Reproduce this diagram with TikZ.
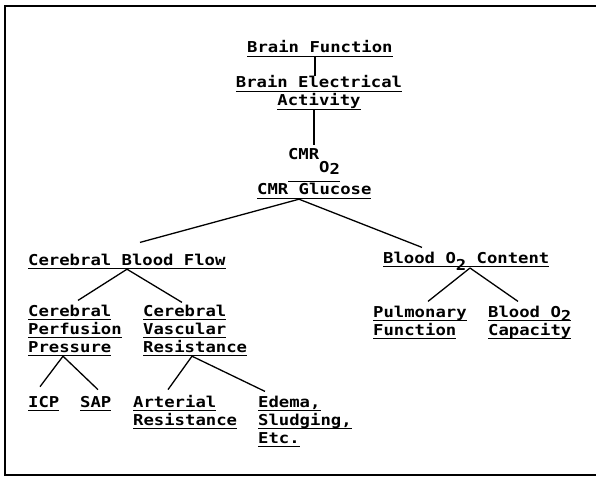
\documentclass[tikz,border=0pt]{standalone}
\usepackage{fontspec}
\setmonofont[FakeStretch=1.15]{DejaVu Sans Mono}
\newcommand{\ulbox}[1]{\setbox0\hbox{#1}\rlap{\rule[-4pt]{\wd0}{1.3pt}}\box0}
\newcommand{\lowr}[2]{\raisebox{-#1}{#2}}
\begin{document}
\begin{tikzpicture}[x=1pt,y=-1pt,
    txt/.style={anchor=base west,inner sep=0pt,align=left,
      font=\ttfamily\bfseries\fontsize{15}{18}\selectfont},
    link/.style={line width=1.3pt}]
    \useasboundingbox (0,0) rectangle (596,478);
    % frame
    \draw[link] (596,6) -- (5,6) -- (5,475) -- (596,475);
    % top column (multi-line nodes sit on their last line)
    \node[txt] (bf) at (247,53) {\ulbox{Brain Function}};
    \node[txt,anchor=base,align=center] (bea) at (319,106) {\ulbox{Brain Electrical}\\\ulbox{Activity}};
    \node[txt,anchor=base] (cmro) at (314,160) {CMR\lowr{13pt}{O\lowr{2pt}{2}}};
    \node[txt] (glu) at (257,195) {\ulbox{CMR Glucose}};
    \draw[link] ([yshift=-6pt]cmro.south west) -- ([yshift=-6pt]cmro.south east);
    % left branch
    \node[txt] (cbf) at (28,265) {\ulbox{Cerebral Blood Flow}};
    \node[txt] (cpp) at (28,352) {\ulbox{Cerebral}\\\ulbox{Perfusion}\\\ulbox{Pressure}};
    \node[txt] (cvr) at (143,352) {\ulbox{Cerebral}\\\ulbox{Vascular}\\\ulbox{Resistance}};
    \node[txt] (icp) at (28,407) {\ulbox{ICP}};
    \node[txt] (sap) at (80,407) {\ulbox{SAP}};
    \node[txt] (ar) at (133,425) {\ulbox{Arterial}\\\ulbox{Resistance}};
    \node[txt] (eds) at (258,443) {\ulbox{Edema,}\\\ulbox{Sludging,}\\\ulbox{Etc.}};
    % right branch
    \node[txt] (boc) at (383,263) {\ulbox{Blood O\lowr{7pt}{2} Content}};
    \node[txt] (pf) at (373,335) {\ulbox{Pulmonary}\\\ulbox{Function}};
    \node[txt] (bcap) at (488,335) {\ulbox{Blood O\lowr{4pt}{2}}\\\ulbox{Capacity}};
    % connectors
    \draw[link] ([xshift=-5pt]bf.south) -- ([xshift=-5pt]bf.south |- bea.north);
    \draw[link] ([xshift=-5pt]bea.south) -- ([xshift=-5pt,yshift=4pt]bea.south |- cmro.north);
    \draw[link] ([xshift=42pt]glu.south west) -- ([xshift=112pt,yshift=11pt]cbf.north west);
    \draw[link] ([xshift=42pt]glu.south west) -- ([xshift=39pt,yshift=4pt]boc.north west);
    \draw[link] ([xshift=99pt]cbf.south west) -- ([xshift=50pt,yshift=4pt]cpp.north west);
    \draw[link] ([xshift=99pt]cbf.south west) -- ([xshift=39pt,yshift=2pt]cvr.north west);
    \draw[link] ([xshift=35pt]cpp.south west) -- ([xshift=12pt,yshift=9pt]icp.north west);
    \draw[link] ([xshift=35pt]cpp.south west) -- ([xshift=18pt,yshift=6pt]sap.north west);
    \draw[link] ([xshift=49pt]cvr.south west) -- ([xshift=35pt,yshift=5pt]ar.north west);
    \draw[link] ([xshift=49pt]cvr.south west) -- ([xshift=7pt,yshift=4pt]eds.north west);
    \draw[link] ([xshift=87pt,yshift=-5pt]boc.base west) -- ([xshift=55pt,yshift=4pt]pf.north west);
    \draw[link] ([xshift=87pt,yshift=-5pt]boc.base west) -- ([xshift=30pt,yshift=4pt]bcap.north west);
\end{tikzpicture}
\end{document}
